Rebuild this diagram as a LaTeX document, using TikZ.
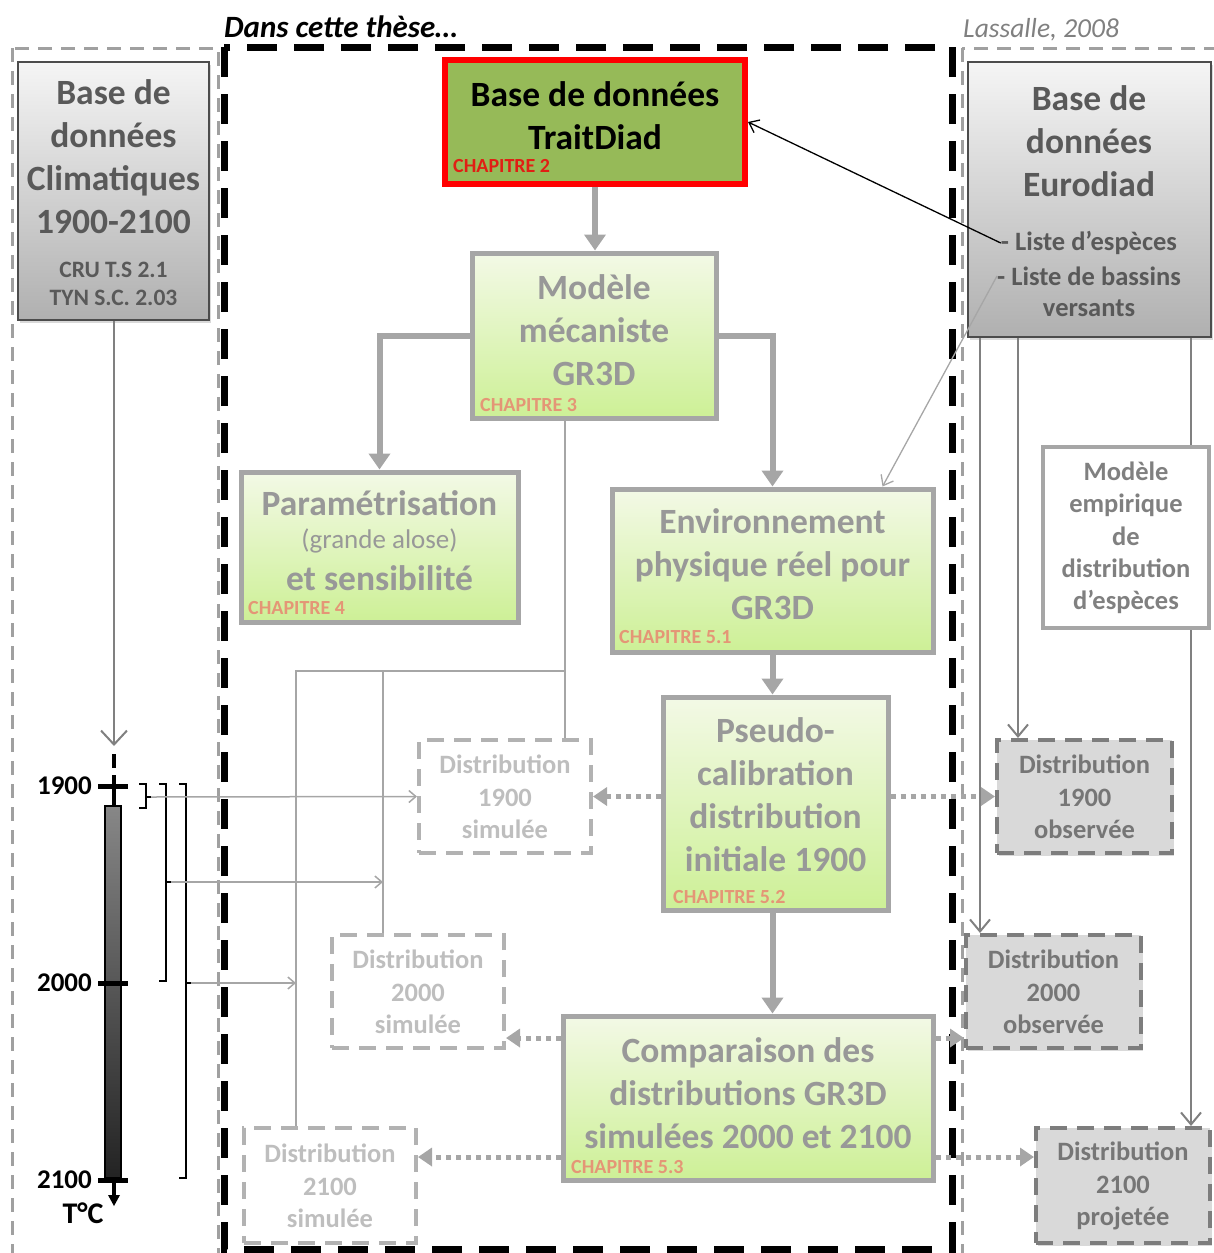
\documentclass[tikz,border=0pt]{standalone}
\usepackage{fontspec}
\setmainfont{Carlito}
\usetikzlibrary{arrows.meta,shadows,calc}

\definecolor{frameGray}{RGB}{160,160,160}
\definecolor{boxGray}{RGB}{166,166,166}
\definecolor{txtGray}{RGB}{152,152,152}
\definecolor{simGray}{RGB}{190,190,190}
\definecolor{simBorder}{RGB}{178,178,178}
\definecolor{obsFill}{RGB}{217,217,217}
\definecolor{obsBorder}{RGB}{125,125,125}
\definecolor{obsText}{RGB}{118,118,118}
\definecolor{darkTxt}{RGB}{89,89,89}
\definecolor{greenTop}{RGB}{243,249,230}
\definecolor{greenBot}{RGB}{205,240,150}
\definecolor{oliveFill}{RGB}{150,186,88}
\definecolor{chapRed}{RGB}{225,30,20}
\definecolor{chapSalmon}{RGB}{228,150,118}
\definecolor{lineGray}{RGB}{128,128,128}
\definecolor{barTop}{RGB}{135,135,135}
\definecolor{barBot}{RGB}{35,35,35}

\newcommand{\fbig}{\fontsize{35.5}{43}\selectfont\bfseries}
\newcommand{\fmidreg}{\fontsize{27}{30}\selectfont}
\newcommand{\fdist}{\fontsize{26.5}{32.5}\selectfont\bfseries}
\newcommand{\feuro}{\fontsize{26.5}{33}\selectfont\bfseries}
\newcommand{\fcru}{\fontsize{23.5}{28}\selectfont\bfseries}
\newcommand{\fchap}{\fontsize{20}{22}\selectfont\bfseries}
\newcommand{\fyear}{\fontsize{27}{30}\selectfont\bfseries}

\begin{document}
\begin{tikzpicture}[x=1pt,y=-1pt,
  gframe/.style={draw=frameGray,line width=3pt,dash pattern=on 14pt off 9pt},
  tframe/.style={draw=black,line width=7pt,dash pattern=on 30pt off 17pt},
  boxshadow/.style={drop shadow={opacity=0.3,shadow xshift=2pt,shadow yshift=-3pt}},
  greenbox/.style={draw=boxGray,line width=5pt,top color=greenTop,bottom color=greenBot,boxshadow,inner sep=0pt},
  graybox/.style={draw=black!70,line width=1.5pt,top color=gray!8,bottom color=gray!62,boxshadow,inner sep=0pt},
  simbox/.style={draw=simBorder,line width=4pt,dash pattern=on 17pt off 10pt,inner sep=0pt},
  obsbox/.style={draw=obsBorder,line width=4pt,dash pattern=on 17pt off 10pt,fill=obsFill,boxshadow,inner sep=0pt},
  bigtxt/.style={align=center,text=txtGray,font=\fbig,inner sep=0pt},
  chap/.style={anchor=west,text=chapSalmon,font=\fchap,inner sep=0pt},
  simtxt/.style={align=center,text=simGray,font=\fdist,inner sep=0pt},
  obstxt/.style={align=center,text=obsText,font=\fdist,inner sep=0pt},
  thickarrow/.style={draw=boxGray,line width=6pt,-{Triangle[length=16pt,width=21pt]}},
  dotarrow/.style={draw=boxGray,line width=5pt,dash pattern=on 5pt off 5pt,-{Triangle[length=14pt,width=18pt]}},
  thinline/.style={draw=boxGray,line width=2.5pt},
  thinarrow/.style={draw=boxGray,line width=1.5pt,-{Straight Barb[length=7pt,width=12pt]}},
  rightline/.style={draw=lineGray,line width=2pt},
  rightarrow/.style={rightline,-{Straight Barb[length=12pt,width=20pt]}},
  tickmark/.style={draw=black,line width=5pt},
  bracket/.style={draw=black,line width=1.5pt},
  yearlbl/.style={anchor=east,font=\fyear,inner sep=0pt}]

\useasboundingbox (0,0) rectangle (1213,1253);

% ---------- frames ----------
\draw[gframe] (12,48) rectangle (218,1265);
\draw[gframe] (962,48) rectangle (1230,1265);
\draw[tframe] (224,47) rectangle (952,1249);
\node[anchor=west,font=\fontsize{31}{34}\selectfont\bfseries\itshape,inner sep=0pt] (title) at (224,27) {Dans cette thèse…};
\node[anchor=west,font=\fontsize{27.5}{30}\selectfont\itshape,text=lineGray,inner sep=0pt] (source) at (963,30) {Lassalle, 2008};

% ---------- climate database ----------
\node[graybox,minimum width=191pt,minimum height=258pt] (clim) at (113.5,191) {};
\node[align=center,text=darkTxt,font=\fbig,inner sep=0pt] (clim-t) at (113.5,157) {Base de\\données\\Climatiques\\1900-2100};
\node[align=center,text=darkTxt,font=\fcru,inner sep=0pt] (clim-s) at (113.5,284) {CRU T.S 2.1\\TYN S.C. 2.03};

% ---------- Eurodiad database ----------
\node[graybox,minimum width=243pt,minimum height=275pt] (euro) at (1089.5,199.5) {};
\node[align=center,text=darkTxt,font=\fbig,inner sep=0pt] (euro-t) at (1089,141) {Base de\\données\\Eurodiad};
\node[text=darkTxt,font=\feuro,inner sep=0pt] (e1) at (1089,243) {- Liste d’espèces};
\node[text=darkTxt,font=\feuro,inner sep=0pt] (e2) at (1089,276) {- Liste de bassins};
\node[text=darkTxt,font=\feuro,inner sep=0pt] (e3) at (1089,308) {versants};

% ---------- TraitDiad ----------
\node[draw=red,line width=6pt,fill=oliveFill,boxshadow,minimum width=300pt,minimum height=124pt,inner sep=0pt] (trait) at (595,122) {};
\node[align=center,font=\fbig,inner sep=0pt] (trait-t) at (595,116) {Base de données\\TraitDiad};
\node[chap,text=chapRed] (trait-c) at (453,166) {CHAPITRE 2};

% ---------- GR3D model ----------
\node[greenbox,minimum width=244pt,minimum height=165pt] (modele) at (594,335.5) {};
\node[bigtxt] (modele-t) at (594,330) {Modèle\\mécaniste\\GR3D};
\node[chap] (modele-c) at (480,405) {CHAPITRE 3};

% ---------- parametrisation ----------
\node[greenbox,minimum width=277pt,minimum height=150pt] (param) at (379.5,547) {};
\node[bigtxt] (param-t1) at (379.5,503) {Paramétrisation};
\node[text=txtGray,font=\fmidreg,inner sep=0pt] (param-t2) at (379.5,541) {(grande alose)};
\node[bigtxt] (param-t3) at (379.5,578) {et sensibilité};
\node[chap] (param-c) at (248,608) {CHAPITRE 4};

% ---------- environment ----------
\node[greenbox,minimum width=321pt,minimum height=163pt] (env) at (772.5,570.5) {};
\node[bigtxt] (env-t) at (772.5,564) {Environnement\\physique réel pour\\GR3D};
\node[chap] (env-c) at (619,637) {CHAPITRE 5.1};

% ---------- pseudo-calibration ----------
\node[greenbox,minimum width=225pt,minimum height=213pt] (pseudo) at (775.5,803.5) {};
\node[bigtxt] (pseudo-t) at (775.5,795) {Pseudo-\\calibration\\distribution\\initiale 1900};
\node[chap] (pseudo-c) at (673,897) {CHAPITRE 5.2};

% ---------- comparison ----------
\node[greenbox,minimum width=370pt,minimum height=164pt] (comp) at (748,1098) {};
\node[bigtxt] (comp-t) at (748,1093) {Comparaison des\\distributions GR3D\\simulées 2000 et 2100};
\node[chap] (comp-c) at (571,1167) {CHAPITRE 5.3};

% ---------- simulated distributions ----------
\node[simbox,minimum width=172pt,minimum height=113pt] (d1900s) at (505,796.5) {};
\node[simtxt] (d1900s-t) at (505,797) {Distribution\\1900\\simulée};
\node[simbox,minimum width=172pt,minimum height=113pt] (d2000s) at (418,991.5) {};
\node[simtxt] (d2000s-t) at (418,992) {Distribution\\2000\\simulée};
\node[simbox,minimum width=172pt,minimum height=115pt] (d2100s) at (330,1185.5) {};
\node[simtxt] (d2100s-t) at (330,1186) {Distribution\\2100\\simulée};

% ---------- observed / projected distributions ----------
\node[obsbox,minimum width=175pt,minimum height=113pt] (d1900o) at (1084.5,796.5) {};
\node[obstxt] (d1900o-t) at (1084.5,797) {Distribution\\1900\\observée};
\node[obsbox,minimum width=175pt,minimum height=113pt] (d2000o) at (1053.5,991.5) {};
\node[obstxt] (d2000o-t) at (1053.5,992) {Distribution\\2000\\observée};
\node[obsbox,minimum width=174pt,minimum height=115pt] (d2100p) at (1123,1185.5) {};
\node[obstxt] (d2100p-t) at (1123,1186) {Distribution\\2100\\projetée};

% ---------- empirical model ----------
\node[draw=boxGray,line width=4pt,fill=white,minimum width=166pt,minimum height=181pt,inner sep=0pt] (emp) at (1126,537.5) {};
\node[align=center,text=lineGray,font=\fontsize{26.5}{32.3}\selectfont\bfseries,inner sep=0pt] (emp-t) at (1126,538) {Modèle\\empirique\\de\\distribution\\d’espèces};

% ---------- main flow ----------
\draw[thickarrow] (trait.south) -- (trait.south |- modele.north);
\draw[thickarrow] (modele.west) -| (param.north);
\draw[thickarrow] (modele.east) -| (env.north);
\draw[thickarrow] (env.south) -- (env.south |- pseudo.north);
\draw[thickarrow] (env.south |- pseudo.south) -- (env.south |- comp.north);

% ---------- dotted outputs ----------
\coordinate (y2000) at (0,1038);
\coordinate (y2100) at (0,1157);
\draw[dotarrow] (d1900s.east -| pseudo.west) -- (d1900s.east);
\draw[dotarrow] (d1900o.west -| pseudo.east) -- (d1900o.west);
\draw[dotarrow] (comp.west |- y2000) -- (d2000s.east |- y2000);
\draw[dotarrow] (comp.east |- y2000) -- (d2000o.west |- y2000);
\draw[dotarrow] (comp.west |- y2100) -- (d2100s.east |- y2100);
\draw[dotarrow] (comp.east |- y2100) -- (d2100p.west |- y2100);

% ---------- model feeding the simulations ----------
\coordinate (jR) at (565,671);
\coordinate (jM) at (383,671);
\coordinate (jL) at (296,671);
\draw[thinline] (jR |- modele.south) -- (jR |- d1900s.north);
\draw[thinline] (jR) -- (jL) -- (jL |- d2100s.north);
\draw[thinline] (jM) -- (jM |- d2000s.north);

% ---------- Eurodiad links ----------
\draw[black,line width=1.3pt,-{Straight Barb[length=9pt,width=14pt]}] (e1.west) -- (trait.east);
\draw[boxGray,line width=1.3pt,-{Straight Barb[length=9pt,width=14pt]}] (e2.west) -- ($(env.north east)+(-53,0)$);
\coordinate (rA) at (980,0);
\coordinate (rB) at (1018,0);
\coordinate (rC) at (1191,0);
\draw[rightarrow] (rA |- euro.south) -- (rA |- d2000o.north);
\draw[rightarrow] (rB |- euro.south) -- (rB |- d1900o.north);
\draw[rightline] (rC |- euro.south) -- (rC |- emp.north);
\draw[rightarrow] (rC |- emp.south) -- (rC |- d2100p.north);

% ---------- time axis ----------
\coordinate (tl-top) at (114,746);
\draw[lineGray,line width=2pt,-{Straight Barb[length=14pt,width=26pt]}] (clim.south -| tl-top) -- (tl-top);
\draw[black,line width=4pt] (114,754) -- (114,768);
\draw[black,line width=4pt] (114,775) -- (114,806);
\node[draw=black,line width=2pt,top color=barTop,bottom color=barBot,minimum width=16pt,minimum height=372pt,inner sep=0pt] (bar) at (113,992) {};
\draw[tickmark] (98,786) -- (128,786);
\draw[tickmark] (98,983) -- (128,983);
\draw[tickmark] (98,1180) -- (128,1180);
\draw[black,line width=4pt] (114,1180) -- (114,1196);
\fill[black] (108,1195) -- (120,1195) -- (114,1206) -- cycle;
\node[yearlbl] (l1900) at (92,786) {1900};
\node[yearlbl] (l2000) at (92,983) {2000};
\node[yearlbl] (l2100) at (92,1180) {2100};
\node[font=\fontsize{30}{32}\selectfont\bfseries,inner sep=0pt] (unit) at (83,1213) {T°C};

% ---------- periods ----------
\draw[bracket] (139,784) -- (146,784) -- (146,808) -- (139,808);
\draw[bracket] (146,797) -- (151,797);
\draw[bracket] (159,784) -- (166,784) -- (166,981) -- (159,981);
\draw[bracket] (166,882) -- (171,882);
\draw[bracket] (179,784) -- (186,784) -- (186,1178) -- (179,1178);
\draw[bracket] (186,983) -- (191,983);
\coordinate (p1) at (151,797);
\coordinate (p2) at (171,882);
\coordinate (p3) at (191,983);
\draw[thinarrow] (p1) -- (d1900s.west);
\draw[thinarrow] (p2) -- (p2 -| jM);
\draw[thinarrow] (p3) -- (p3 -| jL);

\end{tikzpicture}
\end{document}
